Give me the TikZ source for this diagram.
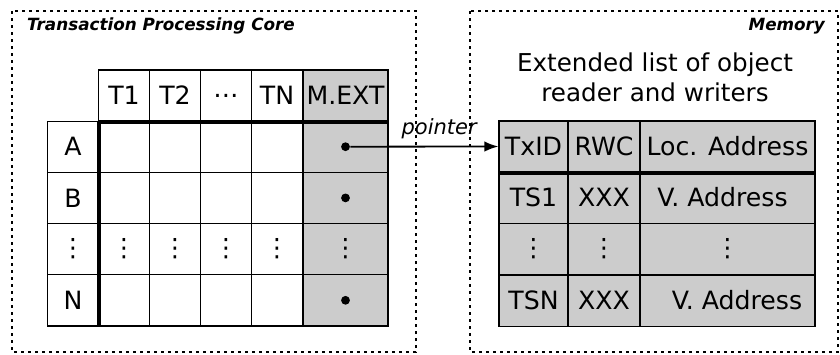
\documentclass[tikz,border=0pt]{standalone}
\usepackage{fontspec}
\setmainfont{DejaVu Sans}
\usetikzlibrary{arrows.meta,positioning,calc}

\begin{document}
\begin{tikzpicture}[
    x=0.5pt, y=-0.5pt,
    >=Latex,
    every node/.style={font=\fontsize{12.6}{15}\selectfont},
    cell/.style={draw, line width=0.6pt, minimum width=25.5pt, minimum height=25.6pt, inner sep=0pt},
    extcell/.style={cell, fill=black!20, minimum width=42.5pt},
    memcell/.style={cell, fill=black!20},
    region/.style={draw, line width=0.8pt, dash pattern=on 1.5pt off 2pt},
    regiontitle/.style={font=\fontsize{8.4}{10}\selectfont\bfseries\itshape},
    ptrdot/.style={circle, fill, inner sep=0pt, minimum size=4.4pt},
    heavy/.style={line width=1.8pt}
]
\useasboundingbox (0,0) rectangle (840,354);

\draw[region] (12,11) rectangle (416,352);
\draw[region] (470,11) rectangle (838,352);
\node[regiontitle, anchor=west] (coretitle) at (20,26) {Transaction Processing Core};
\node[regiontitle, anchor=east] (memtitle) at (832,26) {Memory};

\foreach \lbl [count=\c] in {T1,T2,…,TN}
  \node[cell] (h\c) at ({73+51*\c},95.5) {\lbl};
\node[extcell] (hext) at (345.5,95.5) {M.EXT};

\foreach \lbl [count=\r] in {A,B,⋮,N} {
  \node[cell] (r\r) at (73,{95.5+51.2*\r}) {\lbl};
  \foreach \c in {1,...,4}
    \node[cell] (c\r-\c) at ({73+51*\c},{95.5+51.2*\r}) {\ifnum\r=3 ⋮\fi};
  \node[extcell] (e\r) at (345.5,{95.5+51.2*\r}) {\ifnum\r=3 ⋮\fi};
}
\foreach \r in {1,2,4}
  \node[ptrdot] (p\r) at (e\r.center) {};
\draw[heavy] (h1.south west) -- (hext.south east);
\draw[heavy] (r1.north east) -- (r4.south east);

\node[align=center, font=\fontsize{12.3}{15}\selectfont] (memhead) at (655,77) {Extended list of object\\reader and writers};

\foreach \txt/\x/\w [count=\c] in {TxID/533.5/34.5, RWC/604/36, Loc. Address/727.5/87.5} {
  \node[memcell, minimum width=\w pt] (m0-\c) at (\x,146.5) {\txt};
  \node[memcell, minimum width=\w pt] (m2-\c) at (\x,249) {⋮};
}
\node[memcell, minimum width=34.5pt] (m1-1) at (533.5,197.5) {TS1};
\node[memcell, minimum width=36pt] (m1-2) at (604,197.5) {XXX};
\node[memcell, minimum width=87.5pt] (m1-3) at (727.5,197.5) {\hspace*{-5pt}V. Address};
\node[memcell, minimum width=34.5pt] (m3-1) at (533.5,300.5) {TSN};
\node[memcell, minimum width=36pt] (m3-2) at (604,300.5) {XXX};
\node[memcell, minimum width=87.5pt] (m3-3) at (727.5,300.5) {\hspace*{9.5pt}V. Address};
\draw[heavy] (m0-1.south west) -- (m0-3.south east);

\draw[->, line width=0.9pt] (p1) -- node[pos=0.6, above, font=\fontsize{10.5}{12}\selectfont\itshape] (ptrlbl) {pointer} (m0-1.west);
\end{tikzpicture}
\end{document}
